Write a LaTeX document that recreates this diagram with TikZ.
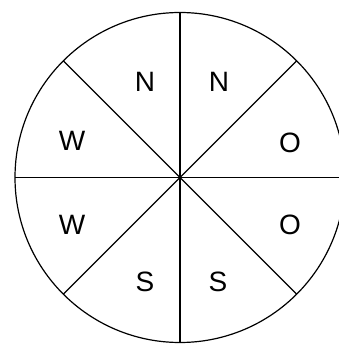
\documentclass[tikz,border=0pt]{standalone}
\usepackage{fontspec}
\setmainfont{Liberation Sans}
\begin{document}
\begin{tikzpicture}[x=1pt,y=1pt,
  edge/.style={draw=black,line width=1.2pt},
  lab/.style={font=\fontsize{28}{28}\selectfont,inner sep=0pt,anchor=center}]
\useasboundingbox (0,0) rectangle (339,345);
\clip (0,0) rectangle (339,345);
\coordinate (c) at (180,167.5);
\draw[edge] (c) circle (165);
\draw[edge] (c) ++(0:165) coordinate (e0) -- ++(180:330) coordinate (e180);
\draw[edge] (c) ++(90:165) coordinate (e90) -- ++(270:330) coordinate (e270);
\draw[edge] (c) ++(45:165) coordinate (e45) -- ++(225:330) coordinate (e225);
\draw[edge] (c) ++(135:165) coordinate (e135) -- ++(315:330) coordinate (e315);
\node[lab] (n1) at (145,263) {N};
\node[lab] (n2) at (219,263) {N};
\node[lab] (w1) at (72,204) {W};
\node[lab] (w2) at (72,120) {W};
\node[lab] (o1) at (290,202) {O};
\node[lab] (o2) at (290,120) {O};
\node[lab] (s1) at (145,63) {S};
\node[lab] (s2) at (218,63) {S};
\end{tikzpicture}
\end{document}
